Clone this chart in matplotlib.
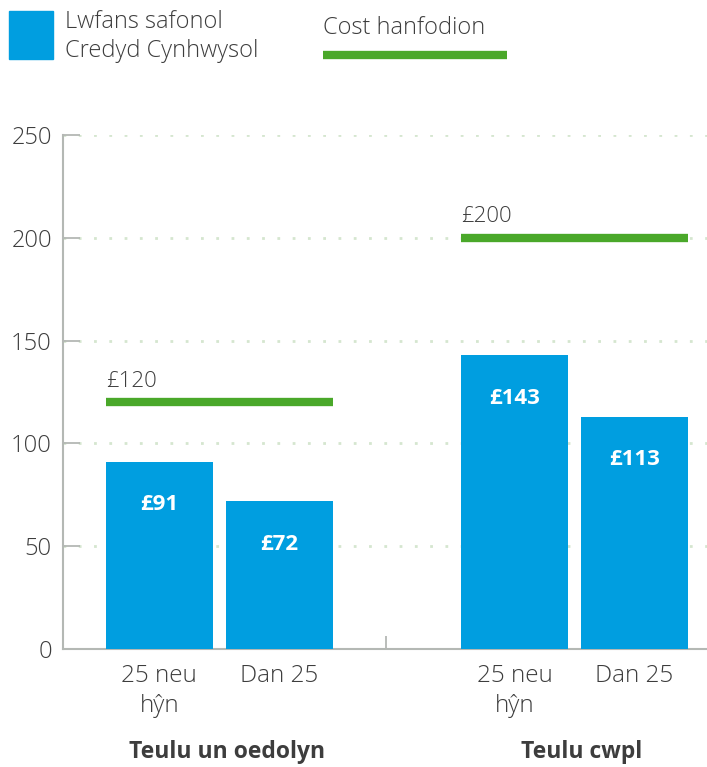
import matplotlib.pyplot as plt
import matplotlib.transforms as mtransforms
from matplotlib.patches import Rectangle
from matplotlib.lines import Line2D

plt.rcParams['font.family'] = ['Open Sans', 'DejaVu Sans']

# data
groups = ["Teulu un oedolyn", "Teulu cwpl"]
categories = ["25 neu\nhŷn", "Dan 25", "25 neu\nhŷn", "Dan 25"]
allowance = [91, 72, 143, 113]
essential_cost = [120, 200]
bar_labels = ["£91", "£72", "£143", "£113"]
cost_labels = ["£120", "£200"]

blue = "#009ee0"
green = "#4aa82a"
txt = "#3d3d3d"
axis_grey = "#b4b8b4"

# bar positions (bar width 1)
pos = [0, 1.12, 3.32, 4.44]
group_mid = [(pos[0] + pos[1]) / 2, (pos[2] + pos[3]) / 2]

fig = plt.figure(figsize=(7.07, 7.67), dpi=100)
ax = fig.add_axes([63 / 707, 118 / 767, 644 / 707, 514 / 767])

ax.bar(pos, allowance, width=1.0, color=blue, zorder=3)

# bar value labels inside
for x, v, lab in zip(pos, allowance, bar_labels):
    ax.annotate(lab, (x, v), xytext=(0, -31), textcoords='offset points',
                ha='center', va='center', color='white', fontsize=16,
                fontweight='bold', zorder=4)

# essential cost lines
for i, c in enumerate(essential_cost):
    x0 = pos[2 * i] - 0.5
    x1 = pos[2 * i + 1] + 0.5
    ax.plot([x0, x1], [c, c], color=green, linewidth=6, solid_capstyle='butt', zorder=4)
    ax.annotate(cost_labels[i], (x0, c), xytext=(0, 15), textcoords='offset points',
                ha='left', va='center', color=txt, fontsize=16, fontweight='light')

ax.set_ylim(0, 250)
ax.set_xlim(-0.9, 5.12)
ax.set_yticks([0, 50, 100, 150, 200, 250])
ax.set_xticks(pos)
ax.set_xticklabels(categories, linespacing=1.3, fontweight='light')
ax.set_yticklabels(['0', '50', '100', '150', '200', '250'], fontweight='light')
ax.set_xticks([2.12], minor=True)

ax.tick_params(axis='y', direction='in', length=12, width=1.3, color=axis_grey,
               labelsize=17, labelcolor=txt, pad=8)
ax.tick_params(axis='x', which='major', length=0, labelsize=17.5, labelcolor=txt, pad=11)
ax.tick_params(axis='x', which='minor', direction='in', length=9.5, width=1.3, color=axis_grey)

for s in ['top', 'right']:
    ax.spines[s].set_visible(False)
for s in ['left', 'bottom']:
    ax.spines[s].set_color(axis_grey)
    ax.spines[s].set_linewidth(1.5)

ax.yaxis.grid(True, color='#d5e6cf', linestyle=(0, (1, 4.5)), linewidth=2)
ax.set_axisbelow(True)
for gl in ax.get_ygridlines()[:1]:
    gl.set_visible(False)

# group labels
trans = mtransforms.blended_transform_factory(ax.transData, fig.transFigure)
for gx, g in zip(group_mid, groups):
    ax.text(gx + 0.07, (767 - 752) / 767, g, transform=trans, ha='center', va='center',
            fontsize=16.5, fontweight='bold', color=txt)

# legend
fig.patches.append(Rectangle((9 / 707, 1 - 59 / 767), 44 / 707, 48 / 767,
                             transform=fig.transFigure, color=blue))
fig.text(65 / 707, 1 - 22 / 767, "Lwfans safonol", fontsize=17, color=txt, va='center',
         fontweight='light')
fig.text(65 / 707, 1 - 51 / 767, "Credyd Cynhwysol", fontsize=17, color=txt, va='center',
         fontweight='light')
fig.text(323 / 707, 1 - 28 / 767, "Cost hanfodion", fontsize=17, color=txt, va='center',
         fontweight='light')
fig.lines.append(Line2D([323 / 707, 507 / 707], [1 - 55 / 767, 1 - 55 / 767],
                        transform=fig.transFigure, color=green, linewidth=6,
                        solid_capstyle='butt'))

fig.savefig("out.png", dpi=100)
